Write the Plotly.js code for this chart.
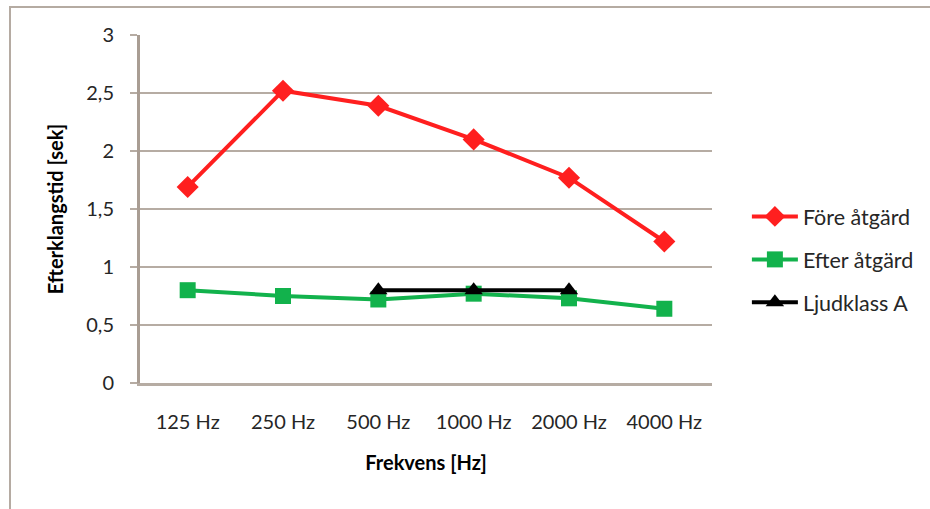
<!DOCTYPE html>
<html>
<head>
<meta charset="utf-8">
<script src="https://cdn.plot.ly/plotly-3.0.1.min.js"></script>
<style>
  html, body { margin: 0; padding: 0; background: #ffffff; overflow: hidden; }
  #wrap { position: relative; width: 930px; height: 509px; }
  #frame { position: absolute; left: 9px; top: 6px; width: 940px; height: 520px;
           border-left: 2px solid #b5aba2; border-top: 2px solid #b5aba2; pointer-events: none; }
  #chart { position: absolute; left: 0; top: 0; width: 930px; height: 509px; }
</style>
</head>
<body>
<div id="wrap">
  <div id="chart"></div>
  <div id="frame"></div>
</div>
<script>
const categories = ["125 Hz", "250 Hz", "500 Hz", "1000 Hz", "2000 Hz", "4000 Hz"];
const foreValues = [1.69, 2.52, 2.39, 2.10, 1.77, 1.22];
const efterValues = [0.80, 0.75, 0.72, 0.77, 0.73, 0.64];
const ljudklassValues = [null, null, 0.8, 0.8, 0.8, null];
const seriesNames = ["Före åtgärd", "Efter åtgärd", "Ljudklass A"];
const yTicks = [0, 0.5, 1, 1.5, 2, 2.5, 3];

const FONT = "Lato, 'Open Sans', sans-serif";
const GRID = "#b6aca3";
const TXT = "#262626";

const traces = [
  {
    x: categories, y: foreValues, name: seriesNames[0], type: "scatter", mode: "lines+markers",
    line: { color: "#ff1f1f", width: 4 },
    marker: { symbol: "diamond", size: 17, color: "#ff1f1f" },
    legendgroup: "a"
  },
  {
    x: categories, y: efterValues, name: seriesNames[1], type: "scatter", mode: "lines+markers",
    line: { color: "#12b24c", width: 4 },
    marker: { symbol: "square", size: 16, color: "#12b24c" },
    legendgroup: "b"
  },
  {
    x: categories, y: ljudklassValues, name: seriesNames[2], type: "scatter", mode: "lines+markers",
    line: { color: "#000000", width: 4 },
    marker: { symbol: "triangle-up", size: 16, color: "#000000" },
    connectgaps: false,
    legendgroup: "c"
  }
];

const layout = {
  width: 930, height: 509,
  margin: { l: 140, r: 218, t: 35, b: 126, autoexpand: false },
  paper_bgcolor: "rgba(0,0,0,0)",
  plot_bgcolor: "#ffffff",
  separators: ", ",
  font: { family: FONT, size: 20, color: TXT },
  showlegend: true,
  legend: {
    x: 1.061, y: 0.355, xanchor: "left", yanchor: "middle",
    font: { family: FONT, size: 21.5, color: TXT },
    traceorder: "grouped", tracegroupgap: 12,
    bgcolor: "rgba(0,0,0,0)", itemwidth: 46
  },
  xaxis: {
    type: "category",
    categoryorder: "array", categoryarray: categories,
    range: [-0.5, 5.5],
    showgrid: false, zeroline: false,
    showline: true, linecolor: GRID, linewidth: 3,
    ticks: "", ticklabelstandoff: 19,
    tickfont: { family: FONT, size: 20, color: TXT },
    title: { text: "Frekvens [Hz]", font: { family: FONT, size: 20, color: "#000000", weight: "bold" }, standoff: 24 },
    fixedrange: true
  },
  yaxis: {
    range: [0, 3],
    tickvals: yTicks,
    showgrid: true, gridcolor: GRID, gridwidth: 2,
    zeroline: false,
    showline: true, linecolor: "#a99d93", linewidth: 3,
    ticks: "outside", ticklen: 7, tickwidth: 2, tickcolor: GRID,
    ticklabelstandoff: 12,
    tickfont: { family: FONT, size: 20, color: TXT },
    title: { text: "Efterklangstid [sek]", font: { family: FONT, size: 20, color: "#000000", weight: "bold" }, standoff: 18 },
    fixedrange: true
  }
};

Plotly.newPlot("chart", traces, layout, { displayModeBar: false, staticPlot: true });
</script>
</body>
</html>
